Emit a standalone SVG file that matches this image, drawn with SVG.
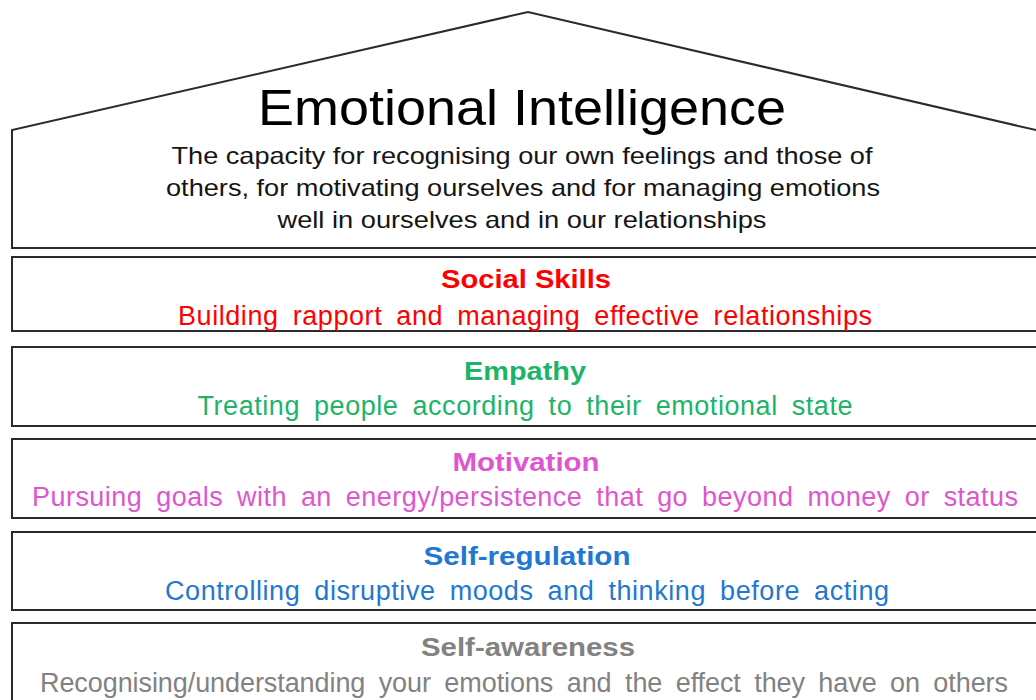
<svg xmlns="http://www.w3.org/2000/svg" width="1036" height="700" viewBox="0 0 1036 700">
  <style>
    .frame { fill: #ffffff; stroke: #2b2b2b; stroke-width: 2; }
    .title { font-family: "Liberation Sans", Arial, sans-serif; text-anchor: middle; }
    .head { font-family: "Liberation Sans", Arial, sans-serif; font-weight: bold; font-size: 26px; text-anchor: middle; }
    .sub { font-family: "Liberation Sans", Arial, sans-serif; font-size: 27px; word-spacing: 6px; text-anchor: middle; }
    .desc { font-family: "Liberation Sans", Arial, sans-serif; font-size: 24px; fill: #151515; text-anchor: middle; }
  </style>
  <rect width="1036" height="700" fill="#ffffff"/>

  <!-- Roof: overall definition of emotional intelligence -->
  <g id="roof">
    <path class="frame" d="M12,248 L12,130 L528,12 L1040,131 L1040,248 Z"/>
    <text class="title" x="522" y="125" font-size="50" fill="#000000" textLength="528" lengthAdjust="spacingAndGlyphs">Emotional Intelligence</text>
    <text class="desc" x="522" y="164" textLength="701" lengthAdjust="spacingAndGlyphs">The capacity for recognising our own feelings and those of</text>
    <text class="desc" x="523" y="196" textLength="714" lengthAdjust="spacingAndGlyphs">others, for motivating ourselves and for managing emotions</text>
    <text class="desc" x="522" y="228" textLength="489" lengthAdjust="spacingAndGlyphs">well in ourselves and in our relationships</text>
  </g>

  <!-- Layers, top to bottom -->
  <g id="social-skills">
    <rect class="frame" x="12" y="257" width="1030" height="74"/>
    <text class="head" x="526" y="288" fill="#ff0000" textLength="170" lengthAdjust="spacingAndGlyphs">Social Skills</text>
    <text class="sub" x="525" y="325" fill="#ff0000" textLength="694" lengthAdjust="spacing">Building rapport and managing effective relationships</text>
  </g>

  <g id="empathy">
    <rect class="frame" x="12" y="347" width="1030" height="79"/>
    <text class="head" x="525" y="380" fill="#1db46a" textLength="122" lengthAdjust="spacingAndGlyphs">Empathy</text>
    <text class="sub" x="525" y="415" fill="#1db46a" textLength="655" lengthAdjust="spacing">Treating people according to their emotional state</text>
  </g>

  <g id="motivation">
    <rect class="frame" x="12" y="439" width="1030" height="79"/>
    <text class="head" x="526" y="471" fill="#df55cf" textLength="147" lengthAdjust="spacingAndGlyphs">Motivation</text>
    <text class="sub" x="525" y="506" fill="#df55cf" textLength="986" lengthAdjust="spacing">Pursuing goals with an energy/persistence that go beyond money or status</text>
  </g>

  <g id="self-regulation">
    <rect class="frame" x="12" y="532" width="1030" height="78"/>
    <text class="head" x="527" y="565" fill="#1f78d1" textLength="207" lengthAdjust="spacingAndGlyphs">Self-regulation</text>
    <text class="sub" x="527" y="600" fill="#1f78d1" textLength="724" lengthAdjust="spacing">Controlling disruptive moods and thinking before acting</text>
  </g>

  <g id="self-awareness">
    <rect class="frame" x="12" y="623" width="1030" height="90"/>
    <text class="head" x="528" y="656" fill="#828282" textLength="214" lengthAdjust="spacingAndGlyphs">Self-awareness</text>
    <text class="sub" x="524" y="692" fill="#828282" textLength="968" lengthAdjust="spacing">Recognising/understanding your emotions and the effect they have on others</text>
  </g>

  <g id="connectors"/>
</svg>
